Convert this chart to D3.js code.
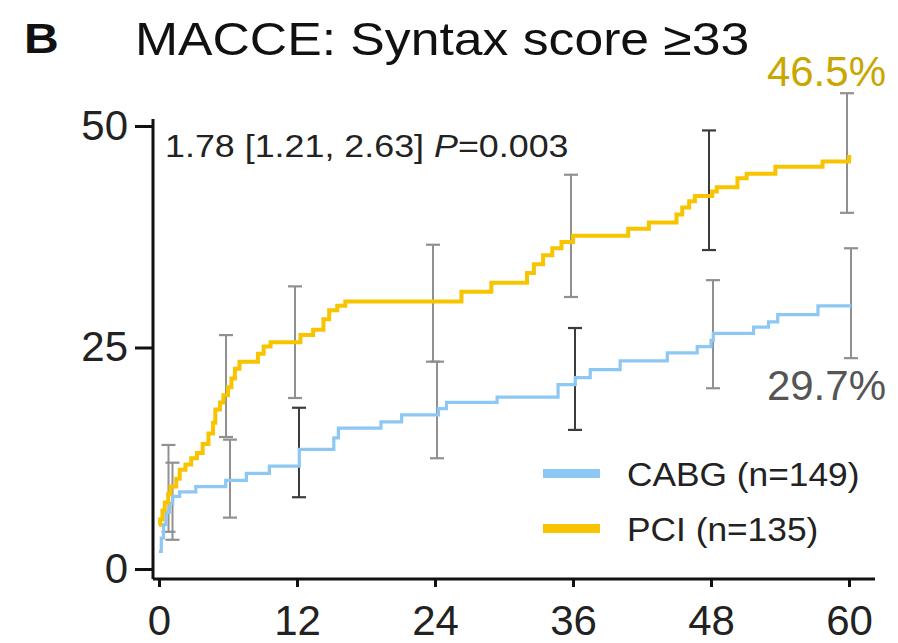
<!DOCTYPE html>
<html>
<head>
<meta charset="utf-8">
<script src="https://cdn.jsdelivr.net/npm/d3@7"></script>
<style>
  html, body { margin: 0; padding: 0; background: #fff; }
  svg { display: block; font-family: "Liberation Sans", Arial, Helvetica, sans-serif; }
</style>
</head>
<body>
<svg id="chart" width="898" height="643"></svg>
<script>
// Kaplan–Meier cumulative incidence of MACCE (%), months since randomisation
const monthTicks = [0, 12, 24, 36, 48, 60];
const pctTicks = [0, 25, 50];

// [month, cumulative %] step points, PCI arm
const pciSteps = [
  [0, 5.0], [0.1, 5.6], [0.3, 6.6], [0.5, 7.5], [0.8, 8.5], [1.0, 9.3], [1.5, 10.2],
  [1.8, 11.2], [2.3, 11.8], [2.8, 12.5], [3.3, 13.1], [3.8, 14.1], [4.3, 15.3],
  [4.7, 16.5], [4.9, 18.0], [5.3, 18.8], [5.6, 19.6], [6.0, 20.5], [6.3, 21.5],
  [6.6, 22.6], [7.0, 23.4], [8.6, 24.3], [9.1, 25.1], [9.7, 25.6], [12.3, 26.4],
  [13.4, 27.0], [14.3, 28.2], [14.8, 29.2], [15.5, 29.7], [16.2, 30.2], [26.3, 31.3],
  [28.9, 32.3], [32.0, 33.4], [32.6, 34.4], [33.4, 35.4], [34.2, 36.2], [35.0, 36.9],
  [36.0, 37.6], [40.8, 38.4], [42.6, 39.1], [45.0, 40.0], [45.5, 40.8], [46.1, 41.5],
  [46.6, 42.1], [48.1, 42.6], [48.5, 43.1], [50.3, 44.1], [51.1, 44.6], [53.6, 45.4],
  [57.7, 46.0], [60.0, 46.5], [60.2, 46.5]
];

// [month, cumulative %] step points, CABG arm
const cabgSteps = [
  [0, 2.0], [0.2, 3.5], [0.4, 5.0], [0.6, 6.4], [0.9, 7.4], [1.2, 8.2], [1.8, 8.7],
  [3.2, 9.3], [5.8, 10.0], [7.6, 10.8], [9.6, 11.6], [12.2, 13.5], [15.2, 14.8],
  [15.6, 15.9], [19.3, 16.6], [21.1, 17.4], [24.3, 18.1], [25.0, 18.8], [29.4, 19.4],
  [34.7, 20.8], [36.2, 21.6], [37.5, 22.5], [40.1, 23.5], [44.2, 24.4], [46.8, 25.1],
  [48.0, 25.8], [48.2, 26.6], [51.7, 27.3], [53.0, 27.9], [53.8, 28.7], [57.3, 29.7],
  [60.2, 29.7]
];

// 95% confidence intervals (%) at landmark months
const ciMonths = [1, 6, 12, 24, 36, 48, 60];
const pciLow  = [4.2, 14.9, 19.3, 23.4, 30.7, 36.0, 40.2];
const pciHigh = [14.0, 26.4, 31.9, 36.6, 44.5, 49.5, 53.7];
const cabgLow  = [3.3, 5.8, 8.1, 12.5, 15.7, 20.4, 23.8];
const cabgHigh = [12.0, 14.6, 18.2, 23.4, 27.2, 32.6, 36.2];

const pciFinal = 46.5;
const cabgFinal = 29.7;

const seriesNames = ["CABG (n=149)", "PCI (n=135)"];
const hrText = "1.78 [1.21, 2.63] ";
const pText = "=0.003";

// ---- styling ----
const GOLD = "#f8c400";
const BLUE = "#8dc7f3";
const BAR = "#909090";
const BAR_DARK = "#3c3c3c";
const darkBars = { cabg: [12, 36], pci: [48] };

const svg = d3.select("#chart");
const x = d3.scaleLinear().domain([0, 60]).range([159, 849]);
const y = d3.scaleLinear().domain([0, 50]).range([569, 126]);
const axisY0 = 579, axisX0 = 153;

// text drawn with a slight horizontal widening (anchored at its start)
function wideText(px, py, sx, size) {
  return svg.append("g").attr("transform", `translate(${px},${py}) scale(${sx},1)`)
    .append("text").attr("font-size", size);
}

// title
wideText(24, 53, 1.12, 43).attr("font-weight", "bold").attr("fill", "#111").text("B");
wideText(135, 55, 1.1, 47).attr("fill", "#111").text("MACCE: Syntax score \u226533");

// axes
const gy = svg.append("g").attr("transform", `translate(${axisX0},0)`)
  .call(d3.axisLeft(y).tickValues(pctTicks).tickSize(18).tickPadding(7));
gy.select(".domain").remove();
gy.append("line").attr("x1", 0).attr("x2", 0).attr("y1", 119).attr("y2", axisY0)
  .attr("stroke", "#111").attr("stroke-width", 3);

const gx = svg.append("g").attr("transform", `translate(0,${axisY0})`)
  .call(d3.axisBottom(x).tickValues(monthTicks).tickSize(8).tickPadding(18));
gx.select(".domain").remove();
gx.append("line").attr("x1", axisX0).attr("x2", 875).attr("y1", 0).attr("y2", 0)
  .attr("stroke", "#111").attr("stroke-width", 3);

[gx, gy].forEach(g => {
  g.selectAll(".tick line").attr("stroke", "#111").attr("stroke-width", 3);
  g.selectAll(".tick text").attr("font-size", 42).attr("fill", "#222")
    .attr("font-family", "Liberation Sans, Arial, sans-serif");
});

// confidence interval bars
function ciBars(lo, hi, key, dx) {
  const g = svg.append("g");
  ciMonths.forEach((m, i) => {
    const col = darkBars[key].includes(m) ? BAR_DARK : BAR;
    const cx = x(m) + dx;
    g.append("line").attr("x1", cx).attr("x2", cx).attr("y1", y(lo[i])).attr("y2", y(hi[i]))
      .attr("stroke", col).attr("stroke-width", 2);
    [lo[i], hi[i]].forEach(v => {
      g.append("line").attr("x1", cx - 7).attr("x2", cx + 7).attr("y1", y(v)).attr("y2", y(v))
        .attr("stroke", col).attr("stroke-width", 2.2);
    });
  });
}
ciBars(cabgLow, cabgHigh, "cabg", 2);
ciBars(pciLow, pciHigh, "pci", -2);

// step curves
const step = d3.line().x(d => x(d[0])).y(d => y(d[1])).curve(d3.curveStepAfter);
svg.append("path").datum(cabgSteps).attr("d", step)
  .attr("fill", "none").attr("stroke", BLUE).attr("stroke-width", 3.2);
svg.append("path").datum(pciSteps).attr("d", step)
  .attr("fill", "none").attr("stroke", GOLD).attr("stroke-width", 4);

// end-point labels
svg.append("text").attr("x", 886).attr("y", 86).attr("text-anchor", "end")
  .attr("font-size", 42).attr("fill", "#c9a600").text(d3.format(".1f")(pciFinal) + "%");
svg.append("text").attr("x", 886).attr("y", 400).attr("text-anchor", "end")
  .attr("font-size", 42).attr("fill", "#555").text(d3.format(".1f")(cabgFinal) + "%");

// hazard ratio annotation
const hr = wideText(165, 157, 1.12, 32).attr("fill", "#222");
hr.append("tspan").text(hrText);
hr.append("tspan").attr("font-style", "italic").text("P");
hr.append("tspan").text(pText);

// legend
[BLUE, GOLD].forEach((c, i) => {
  const ly = 474 + i * 55;
  svg.append("rect").attr("x", 543).attr("y", ly - 5).attr("width", 57).attr("height", 9).attr("fill", c);
  wideText(627, ly + 12, 1.07, 33).attr("fill", "#222").text(seriesNames[i]);
});
</script>
</body>
</html>
